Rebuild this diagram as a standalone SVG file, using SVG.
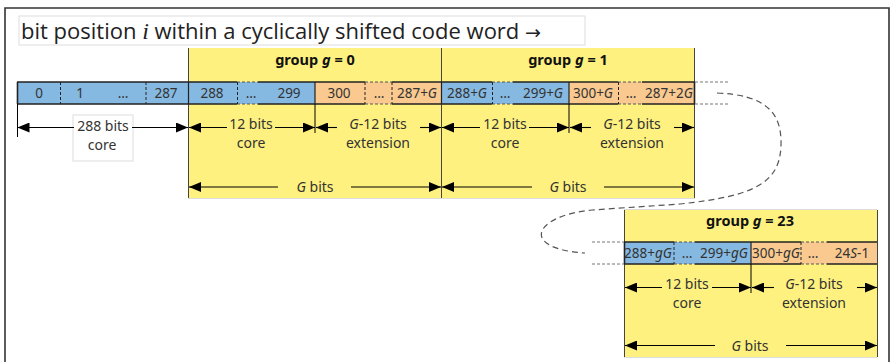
<svg xmlns="http://www.w3.org/2000/svg" width="890" height="362" viewBox="0 0 890 362">
  <defs>
    <marker id="ah" viewBox="0 0 12 10" refX="12" refY="5" markerWidth="12" markerHeight="10" markerUnits="userSpaceOnUse" orient="auto">
      <path d="M0,0 L12,5 L0,10 z" fill="#000"/>
    </marker>
    <style>
      .frame { fill: none; stroke: #333; stroke-width: 1.6; }
      .title { font-family: "Open Sans", "Noto Sans", sans-serif; font-size: 22px; fill: #222; }
      .grp { fill: #FEF17F; stroke: none; }
      .gedge { stroke: #444; stroke-width: 1; fill: none; }
      .gtop { stroke: #ddd; stroke-width: 1; fill: none; }
      .blue { fill: #86B9E1; }
      .orange { fill: #F9C990; }
      .border { stroke: #222; stroke-width: 1.6; fill: none; }
      .notch { stroke: #555; stroke-width: 1; stroke-dasharray: 3 2; fill: none; }
      .sep { stroke: #222; stroke-width: 1; stroke-dasharray: 3 2; fill: none; }
      .solid { stroke: #222; stroke-width: 1.2; fill: none; }
      .ext { stroke: #777; stroke-width: 1; stroke-dasharray: 3 2; fill: none; }
      .cell { font-family: "Noto Sans", "Open Sans", sans-serif; font-size: 13.5px; fill: #333; text-anchor: middle; }
      .lbl { font-family: "Noto Sans", "Open Sans", sans-serif; font-size: 14px; fill: #333; text-anchor: middle; }
      .gname { font-family: "Noto Sans", "Open Sans", sans-serif; font-size: 14.5px; font-weight: bold; fill: #111; text-anchor: middle; }
      .arr { stroke: #000; stroke-width: 1.1; fill: none; marker-end: url(#ah); }
      .tick { stroke: #000; stroke-width: 1; fill: none; }
      .loop { stroke: #555; stroke-width: 1.2; stroke-dasharray: 6 4; fill: none; }
      .it { font-style: italic; }
    </style>
  </defs>

  <rect width="890" height="362" fill="#fff"/>
  <path class="frame" d="M5,362 V8 H889 V362"/>

  <!-- title -->
  <g id="title">
    <rect x="19" y="16" width="566" height="29" fill="#fff" stroke="#ddd" stroke-width="1"/>
    <text class="title" x="21" y="38.5">bit position <tspan font-family="Liberation Serif, serif" font-style="italic" font-size="24px">i</tspan> within a cyclically shifted code word <tspan font-family="DejaVu Sans, sans-serif" font-size="19px">→</tspan></text>
  </g>

  <!-- group backgrounds -->
  <g id="group0">
    <rect class="grp" x="188" y="48" width="253" height="150"/>
    <path class="gtop" d="M188,198.5 H441"/>
    <path class="gedge" d="M188.5,48 V198"/>
    <text class="gname" x="315" y="65">group <tspan class="it">g</tspan> = 0</text>
  </g>
  <g id="group1">
    <rect class="grp" x="441" y="48" width="254" height="150"/>
    <path class="gtop" d="M441,198.5 H695"/>
    <path class="gedge" d="M441.5,48 V198 M694.5,48 V198"/>
    <text class="gname" x="568" y="65">group <tspan class="it">g</tspan> = 1</text>
  </g>
  <g id="group23">
    <rect class="grp" x="624" y="210" width="253" height="147"/>
    <path class="gtop" d="M624,209.5 H877 M624,357.5 H877"/>
    <path class="gedge" d="M624.5,210 V357 M877.5,210 V357"/>
    <text class="gname" x="750" y="226">group <tspan class="it">g</tspan> = 23</text>
  </g>

  <!-- bit row of the first groups -->
  <g id="bitrow">
    <rect class="blue" x="17" y="82" width="298" height="22"/>
    <rect class="orange" x="315" y="82" width="126" height="22"/>
    <rect class="blue" x="441" y="82" width="128" height="22"/>
    <rect class="orange" x="569" y="82" width="126" height="22"/>
    <!-- outer border, lighter over the elided cells -->
    <path class="border" d="M17,82 H237 M258,82 H365 M392,82 H492 M513,82 H618 M642,82 H695
                            M17,104 H237 M258,104 H365 M392,104 H492 M513,104 H618 M642,104 H695
                            M17.5,82 V104 M694.5,82 V104"/>
    <path class="notch" d="M237,82 H258 M365,82 H392 M492,82 H513 M618,82 H642
                           M237,104 H258 M365,104 H392 M492,104 H513 M618,104 H642"/>
    <path class="solid" d="M188.5,82 V104 M315,82 V104 M441.5,82 V104 M569,82 V104"/>
    <path class="sep" d="M60.5,82 V104 M146,82 V104 M237.5,82 V104 M365,82 V104 M392,82 V104 M492.5,82 V104 M618.5,82 V104"/>
    <text class="cell" x="39" y="98">0</text>
    <text class="cell" x="80" y="98">1</text>
    <text class="cell" x="123" y="98">…</text>
    <text class="cell" x="166" y="98">287</text>
    <text class="cell" x="212" y="98">288</text>
    <text class="cell" x="251" y="98">…</text>
    <text class="cell" x="289" y="98">299</text>
    <text class="cell" x="339" y="98">300</text>
    <text class="cell" x="379" y="98">…</text>
    <text class="cell" x="417" y="98">287+<tspan class="it">G</tspan></text>
    <text class="cell" x="467" y="98">288+<tspan class="it">G</tspan></text>
    <text class="cell" x="505" y="98">…</text>
    <text class="cell" x="543" y="98">299+<tspan class="it">G</tspan></text>
    <text class="cell" x="593" y="98">300+<tspan class="it">G</tspan></text>
    <text class="cell" x="631" y="98">…</text>
    <text class="cell" x="669" y="98">287+2<tspan class="it">G</tspan></text>
  </g>

  <!-- bit row of group 23 -->
  <g id="bitrow23">
    <rect class="blue" x="624" y="242" width="127" height="22"/>
    <rect class="orange" x="751" y="242" width="126" height="22"/>
    <path class="border" d="M624,242 H674 M695,242 H801 M827,242 H877
                            M624,264 H674 M695,264 H801 M827,264 H877
                            M624.5,242 V264"/>
    <path class="notch" d="M674,242 H695 M801,242 H827 M674,264 H695 M801,264 H827"/>
    <path class="solid" d="M751,242 V264"/>
    <path class="sep" d="M674,242 V264 M801,242 V264"/>
    <text class="cell" x="648" y="258">288+<tspan class="it">gG</tspan></text>
    <text class="cell" x="687" y="258">…</text>
    <text class="cell" x="724" y="258">299+<tspan class="it">gG</tspan></text>
    <text class="cell" x="776" y="258">300+<tspan class="it">gG</tspan></text>
    <text class="cell" x="813" y="258">…</text>
    <text class="cell" x="852" y="258">24<tspan class="it">S</tspan>-1</text>
  </g>

  <!-- size labels -->
  <g id="labels">
    <rect x="73" y="115" width="60" height="46" fill="#fff" stroke="#ddd" stroke-width="1"/>
    <text class="lbl" x="103" y="130.5">288 bits</text>
    <text class="lbl" x="102" y="149.5">core</text>
    <text class="lbl" x="251" y="129">12 bits</text>
    <text class="lbl" x="251" y="148">core</text>
    <text class="lbl" x="378" y="129"><tspan class="it">G</tspan>-12 bits</text>
    <text class="lbl" x="378" y="148">extension</text>
    <text class="lbl" x="315" y="192"><tspan class="it">G</tspan> bits</text>
    <text class="lbl" x="505" y="129">12 bits</text>
    <text class="lbl" x="505" y="148">core</text>
    <text class="lbl" x="632" y="129"><tspan class="it">G</tspan>-12 bits</text>
    <text class="lbl" x="632" y="148">extension</text>
    <text class="lbl" x="568" y="192"><tspan class="it">G</tspan> bits</text>
    <text class="lbl" x="687" y="289">12 bits</text>
    <text class="lbl" x="687" y="308">core</text>
    <text class="lbl" x="814" y="289"><tspan class="it">G</tspan>-12 bits</text>
    <text class="lbl" x="814" y="308">extension</text>
    <text class="lbl" x="750" y="351"><tspan class="it">G</tspan> bits</text>
  </g>

  <!-- connectors: dimension arrows, ticks and the wrap-around -->
  <g id="connectors">
    <path class="tick" d="M17.5,104 V137 M315,104 V133 M569,104 V133 M751,264 V293"/>
    <path class="arr" d="M74,127.5 H17.5"/>
    <path class="arr" d="M132,127.5 H188"/>
    <path class="arr" d="M227,127.5 H189"/>
    <path class="arr" d="M275,127.5 H315"/>
    <path class="arr" d="M337,127.5 H316"/>
    <path class="arr" d="M420,127.5 H441"/>
    <path class="arr" d="M480,127.5 H442"/>
    <path class="arr" d="M529,127.5 H569"/>
    <path class="arr" d="M591,127.5 H570"/>
    <path class="arr" d="M674,127.5 H694"/>
    <path class="arr" d="M278,187 H189"/>
    <path class="arr" d="M351,187 H441"/>
    <path class="arr" d="M532,187 H442"/>
    <path class="arr" d="M604,187 H694"/>
    <path class="arr" d="M662,287.5 H625"/>
    <path class="arr" d="M712,287.5 H751"/>
    <path class="arr" d="M774,287.5 H752"/>
    <path class="arr" d="M857,287.5 H877"/>
    <path class="arr" d="M715,345.5 H625"/>
    <path class="arr" d="M786,345.5 H877"/>
    <path class="ext" d="M695,82 H729 M695,104 H729 M592,242 H624 M592,264 H624"/>
    <path class="loop" d="M717,93 C765,95 782,112 781,145 C780,183 755,196 680,204 L592,210 C532,216 520,249 585,253"/>
  </g>
</svg>
